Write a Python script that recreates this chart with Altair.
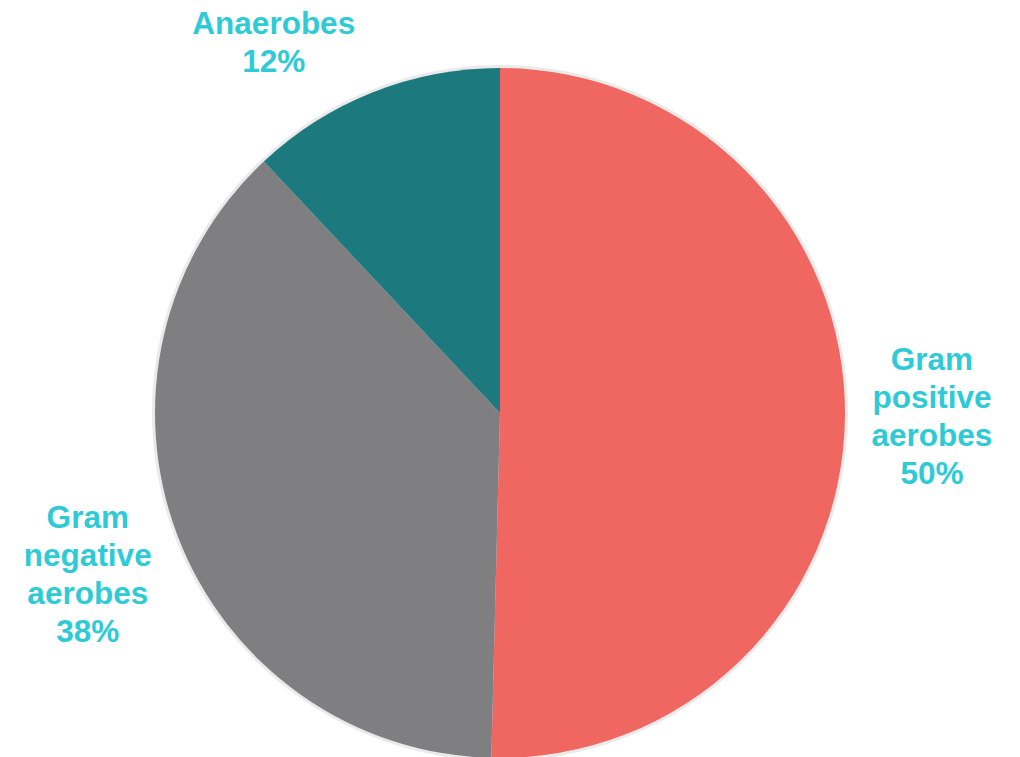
import altair as alt
import pandas as pd
import math

categories = ["Gram positive aerobes", "Gram negative aerobes", "Anaerobes"]
values = [50.4, 37.6, 12.0]
labels = ["Gram\npositive\naerobes\n50%", "Gram\nnegative\naerobes\n38%", "Anaerobes\n12%"]
colors = ["#F06661", "#7F7E80", "#1C7A7E"]

df = pd.DataFrame({"cat": categories, "value": values, "label": labels, "order": [0, 1, 2]})

cx, cy = 492, 405
base = alt.Chart(df).encode(
    theta=alt.Theta("value:Q", stack=True),
    order=alt.Order("order:Q"),
    x=alt.value(cx), y=alt.value(cy),
)

shadow = base.mark_arc(radius=348, color="#d0d0d0", opacity=0.45)
pie = base.mark_arc(radius=345).encode(
    color=alt.Color("cat:N", scale=alt.Scale(domain=categories, range=colors), legend=None)
)

text_base = alt.Chart(df).transform_window(
    cum="sum(value)", sort=[alt.SortField("order")]
).transform_calculate(mid="datum.cum - datum.value / 2")

def lab(cat, dx, dy):
    return text_base.mark_text(
        radius=438, fontSize=31.5, fontWeight="bold", font="Liberation Sans",
        color="#2ECBD6", lineBreak="\n", lineHeight=38, align="center", baseline="middle",
        dx=dx, dy=dy,
    ).encode(
        theta=alt.Theta("mid:Q", stack=None, scale=alt.Scale(domain=[0, 100], range=[0, 2 * math.pi])),
        x=alt.value(cx), y=alt.value(cy),
        text="label:N",
    ).transform_filter(alt.datum.cat == cat)

chart = alt.layer(
    shadow, pie,
    lab("Gram positive aerobes", -6, -58),
    lab("Gram negative aerobes", -3, -50),
    lab("Anaerobes", -65, 19),
).properties(width=1004, height=749, padding=0, autosize="none").configure_view(stroke=None)

chart.save("out.html", embed_options={"renderer": "svg", "actions": False})
